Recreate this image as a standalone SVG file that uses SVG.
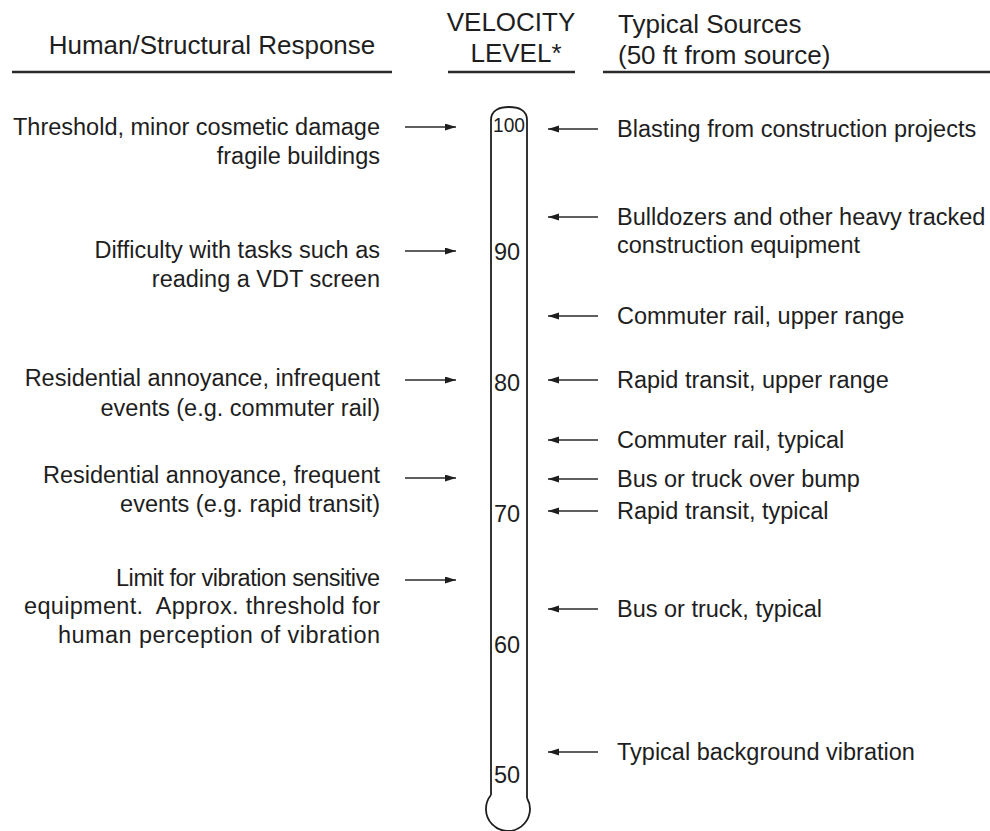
<svg xmlns="http://www.w3.org/2000/svg" width="990" height="831" viewBox="0 0 990 831">
<style>
text{font-family:"Liberation Sans",Arial,Helvetica,sans-serif;fill:#1e1e1e}
.h{font-size:26px}
.b{font-size:23.5px}
.l{text-anchor:end}
.rule{stroke:#2a2a2a;stroke-width:2.6;fill:none}
.tube{stroke:#1e1e1e;stroke-width:1.8;fill:none}
.arr{stroke:#2a2a2a;stroke-width:1.6;fill:none;marker-end:url(#ah)}
</style>
<defs>
<marker id="ah" markerUnits="userSpaceOnUse" markerWidth="12" markerHeight="8" refX="11" refY="3.5" orient="auto">
<path d="M0,0 L11,3.5 L0,7 Z" fill="#1e1e1e"/>
</marker>
</defs>
<rect width="990" height="831" fill="#ffffff"/>

<g id="header-response">
<text class="h" x="212" y="54" text-anchor="middle">Human/Structural Response</text>
<line class="rule" x1="12" y1="72" x2="392" y2="72"/>
</g>
<g id="header-velocity">
<text class="h" x="511" y="31" text-anchor="middle">VELOCITY</text>
<text class="h" x="516" y="62" text-anchor="middle">LEVEL*</text>
<line class="rule" x1="448" y1="72" x2="575" y2="72"/>
</g>
<g id="header-sources">
<text class="h" x="618" y="33">Typical Sources</text>
<text class="h" x="618" y="64">(50 ft from source)</text>
<line class="rule" x1="603" y1="72" x2="990" y2="72"/>
</g>

<g id="thermometer">
<path class="tube" d="M491,795 V120 C491,110 500,107 509,107 C518,107 527,110 527,120 V798"/>
<path class="tube" d="M491,795 A22,22 0 1 0 527,798"/>
<text x="493" y="132" font-size="20" textLength="32" lengthAdjust="spacingAndGlyphs">100</text>
<text class="b" x="494" y="260">90</text>
<text class="b" x="494" y="391">80</text>
<text class="b" x="494" y="522">70</text>
<text class="b" x="494" y="653">60</text>
<text class="b" x="494" y="783">50</text>
</g>

<g id="resp-100">
<text class="b l" x="380" y="135">Threshold, minor cosmetic damage</text>
<text class="b l" x="380" y="164">fragile buildings</text>
</g>
<g id="resp-90">
<text class="b l" x="380" y="258">Difficulty with tasks such as</text>
<text class="b l" x="380" y="287">reading a VDT screen</text>
</g>
<g id="resp-80">
<text class="b l" x="380" y="386">Residential annoyance, infrequent</text>
<text class="b l" x="380" y="416">events (e.g. commuter rail)</text>
</g>
<g id="resp-72">
<text class="b l" x="380" y="483">Residential annoyance, frequent</text>
<text class="b l" x="380" y="512">events (e.g. rapid transit)</text>
</g>
<g id="resp-65">
<text class="b l" x="380" y="586" textLength="264" lengthAdjust="spacing">Limit for vibration sensitive</text>
<text class="b l" x="380" y="614" textLength="356" lengthAdjust="spacing">equipment.&#160; Approx. threshold for</text>
<text class="b l" x="380" y="643" textLength="322" lengthAdjust="spacing">human perception of vibration</text>
</g>

<g id="src-blasting"><text class="b" x="617" y="137">Blasting from construction projects</text></g>
<g id="src-bulldozers">
<text class="b" x="617" y="225">Bulldozers and other heavy tracked</text>
<text class="b" x="617" y="253">construction equipment</text>
</g>
<g id="src-commuter-upper"><text class="b" x="617" y="324">Commuter rail, upper range</text></g>
<g id="src-rapid-upper"><text class="b" x="617" y="388">Rapid transit, upper range</text></g>
<g id="src-commuter-typical"><text class="b" x="617" y="448">Commuter rail, typical</text></g>
<g id="src-bus-bump"><text class="b" x="617" y="487">Bus or truck over bump</text></g>
<g id="src-rapid-typical"><text class="b" x="617" y="519">Rapid transit, typical</text></g>
<g id="src-bus-typical"><text class="b" x="617" y="617">Bus or truck, typical</text></g>
<g id="src-background"><text class="b" x="617" y="760">Typical background vibration</text></g>

<g id="connectors">
<line class="arr" x1="405" y1="127" x2="456" y2="127"/>
<line class="arr" x1="405" y1="251" x2="456" y2="251"/>
<line class="arr" x1="405" y1="380" x2="456" y2="380"/>
<line class="arr" x1="405" y1="478" x2="456" y2="478"/>
<line class="arr" x1="405" y1="580" x2="456" y2="580"/>
<line class="arr" x1="598" y1="129" x2="548" y2="129"/>
<line class="arr" x1="598" y1="217" x2="548" y2="217"/>
<line class="arr" x1="598" y1="316" x2="548" y2="316"/>
<line class="arr" x1="598" y1="380" x2="548" y2="380"/>
<line class="arr" x1="598" y1="440" x2="548" y2="440"/>
<line class="arr" x1="598" y1="479" x2="548" y2="479"/>
<line class="arr" x1="598" y1="511" x2="548" y2="511"/>
<line class="arr" x1="598" y1="609" x2="548" y2="609"/>
<line class="arr" x1="598" y1="752" x2="548" y2="752"/>
</g>
</svg>
